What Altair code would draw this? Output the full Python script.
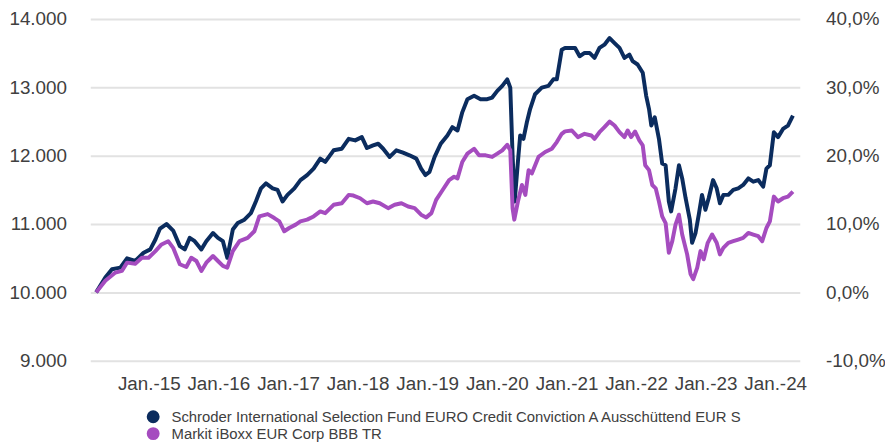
import altair as alt
import pandas as pd

FUND = "Schroder International Selection Fund EURO Credit Conviction A Ausschüttend EUR S"
BENCH = "Markit iBoxx EUR Corp BBB TR"

fund_dates = [
    "2014-03-31", "2014-05-18", "2014-06-22", "2014-08-05", "2014-09-09", "2014-10-22",
    "2014-12-05", "2015-01-09", "2015-02-05", "2015-03-01", "2015-04-04", "2015-05-09",
    "2015-06-13", "2015-07-09", "2015-08-04", "2015-08-30", "2015-10-04", "2015-10-30",
    "2015-12-04", "2015-12-30", "2016-01-25", "2016-02-17", "2016-03-17", "2016-04-12",
    "2016-05-17", "2016-06-20", "2016-07-16", "2016-08-12", "2016-09-07", "2016-10-12",
    "2016-11-07", "2016-12-03", "2016-12-29", "2017-02-03", "2017-03-07", "2017-04-11",
    "2017-05-15", "2017-06-19", "2017-07-15", "2017-08-28", "2017-10-10", "2017-11-15",
    "2017-12-19", "2018-01-23", "2018-02-19", "2018-03-23", "2018-04-19", "2018-05-15",
    "2018-06-18", "2018-07-23", "2018-08-27", "2018-09-30", "2018-11-05", "2018-11-30",
    "2018-12-23", "2019-01-13", "2019-02-09", "2019-03-13", "2019-04-17", "2019-05-13",
    "2019-06-09", "2019-07-04", "2019-07-31", "2019-09-04", "2019-10-08", "2019-11-12",
    "2019-12-08", "2020-01-04", "2020-01-30", "2020-02-25", "2020-03-12", "2020-03-24",
    "2020-04-04", "2020-04-21", "2020-05-03", "2020-05-20", "2020-06-07", "2020-06-24",
    "2020-07-20", "2020-08-24", "2020-09-28", "2020-10-24", "2020-11-11", "2020-12-07",
    "2020-12-24", "2021-01-20", "2021-02-15", "2021-03-11", "2021-04-06", "2021-05-02",
    "2021-05-28", "2021-06-23", "2021-07-19", "2021-08-15", "2021-09-10", "2021-10-06",
    "2021-11-01", "2021-11-27", "2021-12-14", "2022-01-09", "2022-02-05", "2022-02-23",
    "2022-03-10", "2022-03-22", "2022-04-09", "2022-05-01", "2022-05-18", "2022-06-05",
    "2022-06-22", "2022-07-04", "2022-07-27", "2022-08-14", "2022-08-31", "2022-09-18",
    "2022-10-10", "2022-10-22", "2022-11-09", "2022-11-26", "2022-12-13", "2022-12-31",
    "2023-01-17", "2023-02-09", "2023-02-28", "2023-03-17", "2023-04-04", "2023-04-30",
    "2023-05-26", "2023-06-21", "2023-07-17", "2023-08-13", "2023-09-08", "2023-10-04",
    "2023-10-30", "2023-11-16", "2023-12-04", "2023-12-25", "2024-01-16", "2024-02-11",
    "2024-03-08", "2024-04-03",
]
fund_values = [
    10000, 10217, 10339, 10362, 10498, 10459,
    10580, 10629, 10774, 10933, 11000, 10904,
    10677, 10629, 10797, 10749, 10629, 10749,
    10869, 10797, 10749, 10507, 10919, 11014,
    11064, 11159, 11329, 11522, 11594, 11522,
    11498, 11329, 11426, 11522, 11643, 11716,
    11811, 11956, 11908, 12078, 12101, 12246,
    12223, 12271, 12111, 12150, 12174, 12101,
    11981, 12078, 12043, 12005, 11956, 11811,
    11716, 11763, 11981, 12174, 12295, 12416,
    12368, 12633, 12826, 12875, 12826, 12826,
    12850, 12947, 13020, 13116, 12995, 12005,
    11329, 11908, 12295, 12246, 12488, 12681,
    12898, 12995, 13020, 13116, 13116, 13550,
    13575, 13575, 13575, 13454, 13502, 13502,
    13430, 13575, 13623, 13720, 13647, 13575,
    13430, 13478, 13382, 13333, 13213, 12875,
    12681, 12440, 12560, 12246, 11884, 11860,
    11329, 11184, 11522, 11860, 11667, 11377,
    11064, 10725, 10869, 11136, 11426, 11208,
    11377, 11643, 11522, 11304, 11426, 11426,
    11498, 11522, 11571, 11667, 11619, 11643,
    11546, 11811, 11860, 12343, 12271, 12391,
    12440, 12585,
]

bench_dates = [
    "2014-03-31", "2014-05-18", "2014-07-10", "2014-08-13", "2014-09-09", "2014-10-22",
    "2014-11-26", "2014-12-31", "2015-02-05", "2015-03-09", "2015-04-13", "2015-05-09",
    "2015-06-13", "2015-07-17", "2015-08-12", "2015-09-08", "2015-10-04", "2015-10-30",
    "2015-12-04", "2015-12-30", "2016-01-25", "2016-02-17", "2016-03-17", "2016-04-21",
    "2016-06-03", "2016-07-08", "2016-08-03", "2016-09-16", "2016-10-21", "2016-11-16",
    "2016-12-12", "2017-01-07", "2017-02-10", "2017-03-07", "2017-04-11", "2017-05-15",
    "2017-06-19", "2017-07-15", "2017-08-28", "2017-10-10", "2017-11-15", "2017-12-10",
    "2018-01-14", "2018-02-19", "2018-03-23", "2018-04-27", "2018-06-10", "2018-07-14",
    "2018-08-19", "2018-09-23", "2018-10-27", "2018-11-30", "2018-12-27", "2019-01-23",
    "2019-02-17", "2019-03-23", "2019-04-26", "2019-05-22", "2019-06-09", "2019-07-04",
    "2019-07-31", "2019-09-04", "2019-09-30", "2019-11-04", "2019-12-08", "2020-01-04",
    "2020-01-30", "2020-02-25", "2020-03-12", "2020-03-24", "2020-04-02", "2020-04-21",
    "2020-05-12", "2020-05-30", "2020-06-16", "2020-07-03", "2020-08-07", "2020-09-11",
    "2020-10-16", "2020-11-11", "2020-12-07", "2020-12-24", "2021-01-29", "2021-03-02",
    "2021-04-06", "2021-05-11", "2021-05-28", "2021-06-23", "2021-07-19", "2021-08-15",
    "2021-09-10", "2021-10-06", "2021-11-01", "2021-11-18", "2021-12-06", "2021-12-27",
    "2022-01-18", "2022-02-05", "2022-02-18", "2022-03-10", "2022-03-27", "2022-04-14",
    "2022-05-01", "2022-05-18", "2022-06-05", "2022-06-22", "2022-07-10", "2022-07-27",
    "2022-08-14", "2022-08-31", "2022-09-26", "2022-10-14", "2022-10-28", "2022-11-18",
    "2022-12-05", "2022-12-22", "2023-01-12", "2023-02-04", "2023-02-28", "2023-03-17",
    "2023-04-04", "2023-04-30", "2023-05-26", "2023-06-21", "2023-07-17", "2023-08-13",
    "2023-09-08", "2023-10-04", "2023-10-25", "2023-11-16", "2023-12-04", "2023-12-25",
    "2024-01-16", "2024-02-11", "2024-03-08", "2024-04-03",
]
bench_values = [
    10000, 10170, 10290, 10314, 10435, 10420,
    10507, 10507, 10604, 10701, 10749, 10652,
    10411, 10372, 10507, 10459, 10314, 10435,
    10532, 10459, 10387, 10362, 10604, 10749,
    10797, 10894, 11111, 11145, 11087, 11039,
    10894, 10942, 10991, 11039, 11064, 11111,
    11184, 11159, 11281, 11304, 11426, 11416,
    11377, 11304, 11329, 11304, 11232, 11281,
    11304, 11256, 11232, 11136, 11097, 11159,
    11353, 11498, 11643, 11691, 11667, 11908,
    12029, 12101, 12005, 12005, 11981, 12029,
    12078, 12159, 12078, 11232, 11064, 11329,
    11571, 11426, 11788, 11739, 11981, 12053,
    12101, 12198, 12319, 12355, 12368, 12271,
    12319, 12295, 12246, 12343, 12416, 12498,
    12440, 12343, 12271, 12368, 12271, 12353,
    12223, 12150, 11860, 11788, 11571, 11522,
    11329, 11111, 11014, 10580, 10749, 10991,
    11136, 10846, 10556, 10267, 10194, 10362,
    10604, 10484, 10725, 10846, 10725, 10556,
    10652, 10725, 10749, 10773, 10797, 10869,
    10846, 10822, 10749, 10942, 11039, 11401,
    11329, 11377, 11401, 11474,
]

year_ticks = [2015, 2016, 2017, 2018, 2019, 2020, 2021, 2022, 2023, 2024]
left_ticks = [9000, 10000, 11000, 12000, 13000, 14000]

series_names = [FUND, BENCH]
series_colors = ["#0b2c5e", "#a54cbf"]

df = pd.concat([
    pd.DataFrame({"date": fund_dates, "value": fund_values, "series": FUND}),
    pd.DataFrame({"date": bench_dates, "value": bench_values, "series": BENCH}),
], ignore_index=True)

FONT = "Liberation Sans"
TXT = "#404040"

x_enc = alt.X(
    "date:T",
    scale=alt.Scale(domain=[alt.DateTime(year=2014, month=2, date=28, utc=True),
                            alt.DateTime(year=2024, month=5, date=9, utc=True)]),
    axis=alt.Axis(
        values=[alt.DateTime(year=y, month=1, date=1, utc=True) for y in year_ticks],
        labelExpr="'Jan.-' + utcFormat(datum.value, '%y')",
        title=None, grid=False, ticks=False, domain=False,
        labelFont=FONT, labelFontSize=19, labelColor=TXT, labelPadding=14,
        labelOverlap=False, labelFlush=False,
    ),
)

y_scale = alt.Scale(domain=[9000, 14000], nice=False, zero=False)
color_scale = alt.Scale(domain=series_names, range=series_colors)

left_axis = alt.Axis(
    values=left_ticks, orient="left", title=None, ticks=False, domain=False,
    grid=True, gridColor="#e2e2e2", gridWidth=2,
    labelExpr="replace(format(datum.value, ','), ',', '.')",
    labelFont=FONT, labelFontSize=19, labelColor=TXT, labelPadding=24,
)

# invisible filled circles that carry the legend (colour channel)
legend_layer = alt.Chart(df).mark_circle(opacity=0).encode(
    x=x_enc,
    y=alt.Y("value:Q", scale=y_scale, axis=left_axis),
    color=alt.Color("series:N", scale=color_scale, legend=alt.Legend(
        title=None, orient="none", legendX=56, legendY=394, direction="vertical",
        symbolType="circle", symbolSize=170, symbolStrokeWidth=0, symbolOpacity=1,
        labelFont=FONT, labelFontSize=15, labelColor=TXT, labelLimit=900,
        rowPadding=1, labelOffset=11,
    )),
)

fund_line = alt.Chart(df).transform_filter(alt.datum.series == FUND).mark_line(
    strokeWidth=4, strokeJoin="round"
).encode(
    x=x_enc,
    y=alt.Y("value:Q", scale=y_scale, axis=left_axis),
    stroke=alt.Stroke("series:N", scale=color_scale, legend=None),
)

bench_line = alt.Chart(df).transform_filter(alt.datum.series == BENCH).mark_line(
    strokeWidth=4, strokeJoin="round"
).encode(
    x=x_enc,
    y=alt.Y("value:Q", scale=y_scale, axis=left_axis),
    stroke=alt.Stroke("series:N", scale=color_scale, legend=None),
)

right = alt.Chart(df).mark_line(opacity=0).encode(
    x=x_enc,
    y=alt.Y("value:Q", scale=y_scale, axis=alt.Axis(
        values=left_ticks, orient="right", title=None, ticks=False, domain=False,
        grid=False,
        labelExpr="(datum.value < 10000 ? '-' : '') + toString(abs(round((datum.value - 10000) / 100))) + ',0%'",
        labelFont=FONT, labelFontSize=19, labelColor=TXT, labelPadding=26, labelAlign="left",
    )),
    detail="series:N",
)

chart = alt.layer(alt.layer(legend_layer, fund_line, bench_line), right).resolve_scale(
    y="independent"
).properties(
    width=716, height=345,
    padding={"left": 83, "top": 9, "right": 86, "bottom": 82},
    autosize=alt.AutoSizeParams(type="none"),
    background="white",
).configure_view(stroke=None)

chart.save("out.html", embed_options={"renderer": "svg", "actions": False})
